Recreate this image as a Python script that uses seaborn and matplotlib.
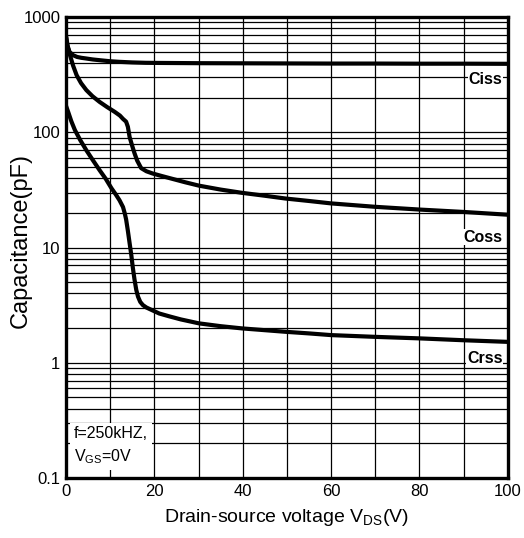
import matplotlib
matplotlib.use("Agg")
import matplotlib.pyplot as plt
import seaborn as sns
import pandas as pd
from matplotlib.ticker import FixedLocator, NullFormatter

# Data
ciss_v = [0, 0.3, 0.8, 1.6, 2.5, 3.5, 4.6, 6, 8, 9.9, 12, 15, 18, 21, 30, 40, 50, 60, 70, 80, 90, 100]
ciss_c = [680, 560, 500, 468, 452, 444, 438, 430, 422, 415, 410, 405, 402, 401, 399, 398, 397, 396, 396, 395, 395, 394]

coss_v = [0, 0.4, 0.9, 1.6, 2.4, 3.4, 4.6, 6, 7.6, 9.3, 11, 12.2, 12.9, 13.6, 14.0, 14.4, 15.0, 15.5, 16.1, 17.0, 18.2, 19.6, 21.5, 24.1, 27, 30.1, 35, 39.8, 45, 49.6, 55, 60, 70, 80, 90, 100]
coss_c = [680, 560, 468, 380, 314, 268, 233, 206, 184, 166, 151, 140, 131, 124, 112, 91, 76, 66, 57, 49, 46, 44, 42, 39.5, 36.9, 34.5, 31.9, 29.9, 28.2, 26.7, 25.4, 24.2, 22.6, 21.4, 20.4, 19.3]

crss_v = [0, 0.5, 1.2, 2, 3.2, 4.6, 6, 7.6, 9, 10.3, 11.3, 12.1, 12.9, 13.3, 13.6, 14.0, 14.4, 14.8, 15.1, 15.5, 15.9, 16.3, 16.8, 17.4, 18.2, 19.6, 21.1, 23.4, 26, 30.1, 35, 39.8, 45, 49.6, 55, 60, 70, 80, 90, 100]
crss_c = [170, 150, 125, 105, 86, 70, 58, 47, 39.5, 32.7, 28.8, 25.8, 22.5, 19.8, 17.6, 14.0, 10.9, 8.5, 6.8, 5.3, 4.3, 3.75, 3.38, 3.17, 3.02, 2.85, 2.68, 2.53, 2.38, 2.20, 2.08, 1.99, 1.92, 1.86, 1.80, 1.74, 1.68, 1.63, 1.57, 1.52]

series_names = ["Ciss", "Coss", "Crss"]
x_ticks = [0, 20, 40, 60, 80, 100]
y_ticks = [0.1, 1, 10, 100, 1000]
y_tick_labels = ["0.1", "1", "10", "100", "1000"]

df = pd.concat([
    pd.DataFrame({"V": ciss_v, "C": ciss_c, "s": "Ciss"}),
    pd.DataFrame({"V": coss_v, "C": coss_c, "s": "Coss"}),
    pd.DataFrame({"V": crss_v, "C": crss_c, "s": "Crss"}),
], ignore_index=True)

sns.set_theme(style="white")
plt.rcParams['font.family'] = ['Liberation Sans', 'DejaVu Sans']
plt.rcParams['text.color'] = 'black'
plt.rcParams['axes.labelcolor'] = 'black'
plt.rcParams['xtick.color'] = 'black'
plt.rcParams['ytick.color'] = 'black'

fig = plt.figure(figsize=(5.24, 5.38), dpi=100)
ax = fig.add_axes([0.126, 0.1115, 0.843, 0.8565])

ax.set_yscale("log")
ax.set_xlim(0, 100)
ax.set_ylim(0.1, 1000)

# grid
ax.xaxis.set_minor_locator(FixedLocator(list(range(10, 100, 20))))
minor_y = [m * 10.0 ** e for e in range(-1, 3) for m in range(2, 10)]
ax.yaxis.set_minor_locator(FixedLocator(minor_y))
ax.yaxis.set_minor_formatter(NullFormatter())
ax.grid(True, which="both", color="black", linewidth=0.9)
ax.set_axisbelow(True)

sns.lineplot(data=df, x="V", y="C", hue="s", palette={n: "black" for n in series_names},
             estimator=None, sort=False, linewidth=3.0, legend=False, ax=ax)
for line in ax.lines:
    line.set_solid_capstyle("butt")
    line.set_solid_joinstyle("round")

ax.set_xticks(x_ticks)
ax.set_xticklabels([str(t) for t in x_ticks], fontsize=12, color="black")
ax.set_yticks(y_ticks)
ax.set_yticklabels(y_tick_labels, fontsize=12, color="black")
ax.tick_params(which="both", length=0, pad=4, labelcolor="black")

for sp in ax.spines.values():
    sp.set_linewidth(2.4)
    sp.set_color("black")

ax.set_xlabel("Drain-source voltage V$_{\\mathregular{DS}}$(V)", fontsize=14, labelpad=6, color="black")
ax.set_ylabel("Capacitance(pF)", fontsize=17, color="black")
ax.yaxis.set_label_coords(-0.077, 0.516)

# curve labels
lbl_box = dict(facecolor="white", edgecolor="none", pad=0.5)
ax.text(98.8, 290, "Ciss", ha="right", va="center", fontsize=11.5, fontweight="bold", color="black", bbox=lbl_box)
ax.text(98.8, 12.3, "Coss", ha="right", va="center", fontsize=11.5, fontweight="bold", color="black", bbox=lbl_box)
ax.text(98.8, 1.1, "Crss", ha="right", va="center", fontsize=11.5, fontweight="bold", color="black", bbox=lbl_box)

ax.text(1.8, 0.128, "f=250kHZ,\nV$_{\\mathregular{GS}}$=0V", ha="left", va="bottom", fontsize=11.5,
        linespacing=1.45, color="black",
        bbox=dict(facecolor="white", edgecolor="none", pad=3))

fig.savefig("out.png", dpi=100)
